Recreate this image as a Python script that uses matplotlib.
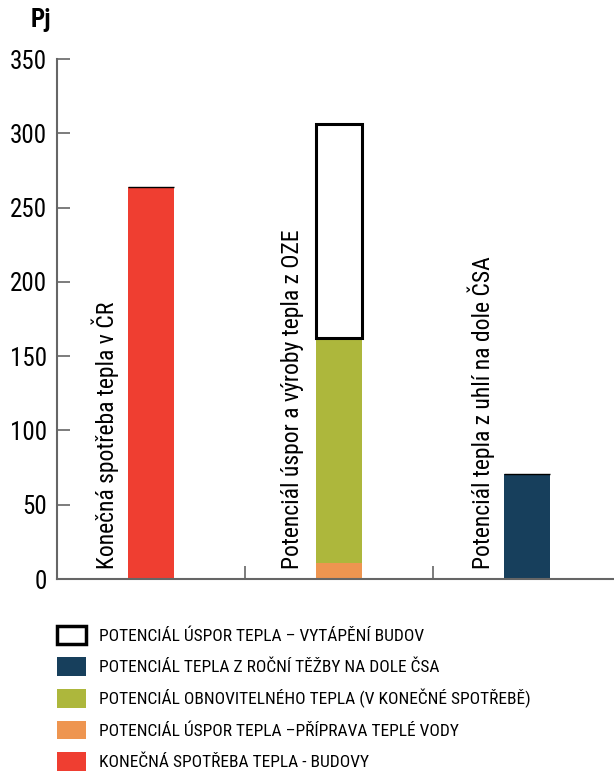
import matplotlib.pyplot as plt
from matplotlib import font_manager
from matplotlib.patches import Patch

# heat potentials, Pj
categories = ["Konečná spotřeba tepla v ČR",
              "Potenciál úspor a výroby tepla z OZE",
              "Potenciál tepla z uhlí na dole ČSA"]
water_savings = [0, 11, 0]
renewables = [0, 151, 0]
csa_coal = [0, 0, 71]
consumption = [264, 0, 0]
heating_savings = [0, 144, 0]

legend_labels = ["POTENCIÁL ÚSPOR TEPLA – VYTÁPĚNÍ BUDOV",
                 "POTENCIÁL TEPLA Z ROČNÍ TĚŽBY NA DOLE ČSA",
                 "POTENCIÁL OBNOVITELNÉHO TEPLA (V KONEČNÉ SPOTŘEBĚ)",
                 "POTENCIÁL ÚSPOR TEPLA –PŘÍPRAVA TEPLÉ VODY",
                 "KONEČNÁ SPOTŘEBA TEPLA - BUDOVY"]
yticks = [0, 50, 100, 150, 200, 250, 300, 350]

RED = "#ef3e31"
GREEN = "#adb73c"
ORANGE = "#ee9550"
NAVY = "#173f5c"
AXIS = "#666666"

# pick the narrowest sans available
fonts = font_manager.fontManager.ttflist
names = {f.name for f in fonts}
stretch = "normal"
family = "Liberation Sans"
for cand in ["Liberation Sans Narrow", "Roboto Condensed", "Open Sans Condensed"]:
    if cand in names:
        family = cand
        break
else:
    if any(f.name == "DejaVu Sans" and "condensed" in str(f.stretch) for f in fonts):
        family, stretch = "DejaVu Sans", "condensed"
plt.rcParams["font.family"] = [family, "DejaVu Sans"]
plt.rcParams["font.stretch"] = stretch

fig = plt.figure(figsize=(6.14, 7.71), dpi=100)
ax = fig.add_axes([0.0928, 0.249, 0.907, 0.6744])

x = [i + 0.5 for i in range(len(categories))]
w = 0.245

bottom = [0] * len(x)
for vals, col in [(water_savings, ORANGE), (renewables, GREEN),
                  (csa_coal, NAVY), (consumption, RED)]:
    ax.bar(x, vals, w, bottom=bottom, color=col, linewidth=0)
    bottom = [b + v for b, v in zip(bottom, vals)]
# savings on top, outlined; zero-height parts leave a thin cap line
ax.bar(x, heating_savings, w, bottom=bottom, facecolor="white",
       edgecolor="black", linewidth=[2.2 if v else 1.0 for v in heating_savings])

for xi, name in zip(x, categories):
    ax.text(xi - 0.245, 7, name, rotation=90, ha="center", va="bottom",
            fontsize=17)

ax.set_xlim(0, 2.963)
ax.set_ylim(0, 350)
ax.set_yticks(yticks)
ax.set_xticks([1, 2])
ax.set_xticklabels([])
ax.tick_params(axis="y", direction="in", length=9.5, width=1.2,
               color=AXIS, labelsize=18, pad=7)
ax.tick_params(axis="x", direction="in", length=9.5, width=1.2, color=AXIS)
for s in ["top", "right"]:
    ax.spines[s].set_visible(False)
for s in ["left", "bottom"]:
    ax.spines[s].set_color(AXIS)
    ax.spines[s].set_linewidth(1.5)

fig.text(41 / 614, 1 - 20 / 771, "Pj", ha="center", va="center",
         fontsize=18, fontweight="bold")

handles = [Patch(facecolor="white", edgecolor="black", linewidth=2.5),
           Patch(facecolor=NAVY), Patch(facecolor=GREEN),
           Patch(facecolor=ORANGE), Patch(facecolor=RED)]
fig.legend(handles, legend_labels, loc="upper left",
           bbox_to_anchor=(50 / 614, 1 - 619 / 771), frameon=False,
           fontsize=12.5, handlelength=1.65, handleheight=1.25,
           handletextpad=0.75, labelspacing=0.75, borderaxespad=0)

fig.savefig("out.png", dpi=100)
